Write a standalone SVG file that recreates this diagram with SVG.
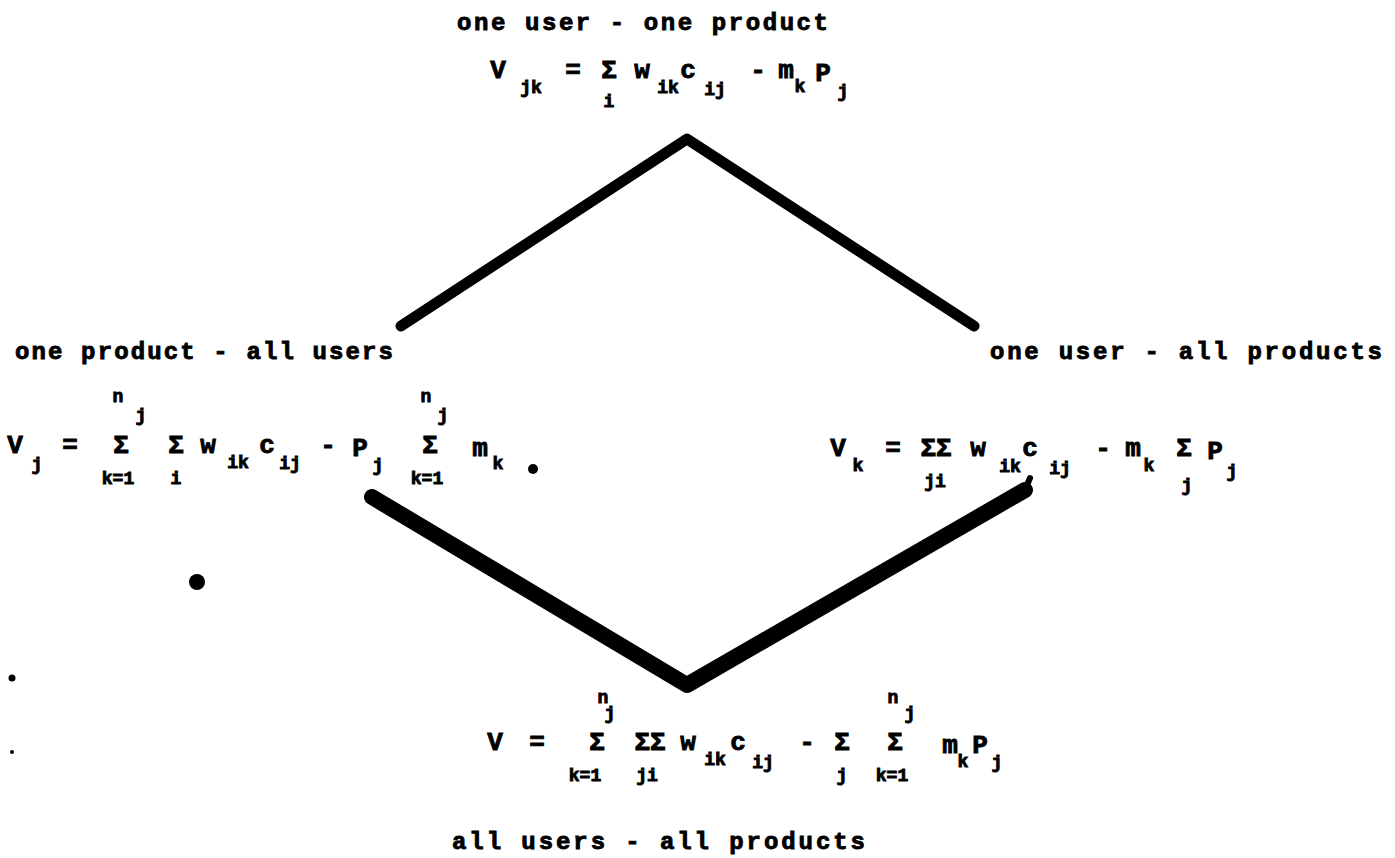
<svg xmlns="http://www.w3.org/2000/svg" width="1395" height="858" viewBox="0 0 1395 858">
<style>
text{font-family:"Liberation Mono","DejaVu Sans Mono",monospace;font-weight:bold;fill:#000;stroke:#000;stroke-width:0.9px}
.lbl{font-size:24px}
.m{font-size:26px;text-anchor:middle}
.s{font-size:18px;text-anchor:middle}
.edge{fill:none;stroke:#000;stroke-linecap:round;stroke-linejoin:round}
</style>
<rect width="1395" height="858" fill="#fff"/>
<g id="connectors">
<path class="edge" stroke-width="11" d="M401 326 L687 139 L974 326"/>
<path class="edge" stroke-width="16" d="M372 497 L687 685 L1025 490"/>
<path class="edge" stroke-width="6" d="M1025 490 L1030 478"/>
</g>
<g id="node-top">
<text class="lbl" x="457" y="30" textLength="371" lengthAdjust="spacing">one user - one product</text>
<text class="m" x="498" y="78">V</text>
<text class="s" x="531" y="93">jk</text>
<text class="m" x="573" y="78">=</text>
<text class="m" x="609" y="78">Σ</text>
<text class="s" x="609" y="107">i</text>
<text class="m" x="642" y="78">w</text>
<text class="s" x="668" y="93">ik</text>
<text class="m" x="688" y="78">c</text>
<text class="s" x="715" y="95">ij</text>
<text class="m" x="758" y="78">-</text>
<text class="m" x="786" y="78">m</text>
<text class="s" x="800" y="92">k</text>
<text class="m" x="823" y="81">P</text>
<text class="s" x="843" y="97">j</text>
</g>
<g id="node-left">
<text class="lbl" x="15" y="359" textLength="378" lengthAdjust="spacing">one product - all users</text>
<text class="m" x="15" y="453">V</text>
<text class="s" x="37" y="470">j</text>
<text class="m" x="70" y="453">=</text>
<text class="s" x="118" y="402">n</text>
<text class="s" x="141" y="421">j</text>
<text class="m" x="121" y="453">Σ</text>
<text class="s" x="118" y="484">k=1</text>
<text class="m" x="176" y="453">Σ</text>
<text class="s" x="176" y="484">i</text>
<text class="m" x="208" y="453">w</text>
<text class="s" x="238" y="468">ik</text>
<text class="m" x="267" y="453">c</text>
<text class="s" x="290" y="469">ij</text>
<text class="m" x="328" y="453">-</text>
<text class="m" x="360" y="456">P</text>
<text class="s" x="378" y="471">j</text>
<text class="s" x="426" y="402">n</text>
<text class="s" x="443" y="421">j</text>
<text class="m" x="430" y="453">Σ</text>
<text class="s" x="427" y="484">k=1</text>
<text class="m" x="480" y="456">m</text>
<text class="s" x="498" y="469">k</text>
<circle cx="533" cy="469" r="5"/>
</g>
<g id="node-right">
<text class="lbl" x="990" y="359" textLength="392" lengthAdjust="spacing">one user - all products</text>
<text class="m" x="838" y="456">V</text>
<text class="s" x="858" y="471">k</text>
<text class="m" x="893" y="456">=</text>
<text class="m" x="936" y="456">ΣΣ</text>
<text class="s" x="935" y="487">ji</text>
<text class="m" x="978" y="456">w</text>
<text class="s" x="1010" y="472">ik</text>
<text class="m" x="1030" y="456">c</text>
<text class="s" x="1060" y="474">ij</text>
<text class="m" x="1103" y="456">-</text>
<text class="m" x="1133" y="456">m</text>
<text class="s" x="1149" y="471">k</text>
<text class="m" x="1184" y="456">Σ</text>
<text class="s" x="1187" y="491">j</text>
<text class="m" x="1215" y="459">P</text>
<text class="s" x="1232" y="477">j</text>
</g>
<g id="node-bottom">
<text class="s" x="603" y="703">n</text>
<text class="s" x="610" y="719">j</text>
<text class="m" x="495" y="750">V</text>
<text class="m" x="537" y="750">=</text>
<text class="m" x="597" y="750">Σ</text>
<text class="s" x="585" y="781">k=1</text>
<text class="m" x="650" y="750">ΣΣ</text>
<text class="s" x="647" y="781">ji</text>
<text class="m" x="688" y="750">w</text>
<text class="s" x="715" y="765">ik</text>
<text class="m" x="738" y="750">c</text>
<text class="s" x="763" y="768">ij</text>
<text class="m" x="807" y="750">-</text>
<text class="m" x="842" y="750">Σ</text>
<text class="s" x="842" y="781">j</text>
<text class="s" x="893" y="703">n</text>
<text class="s" x="910" y="719">j</text>
<text class="m" x="895" y="750">Σ</text>
<text class="s" x="892" y="781">k=1</text>
<text class="m" x="950" y="753">m</text>
<text class="s" x="963" y="767">k</text>
<text class="m" x="980" y="753">P</text>
<text class="s" x="997" y="768">j</text>
<text class="lbl" x="452" y="849" textLength="413" lengthAdjust="spacing">all users - all products</text>
</g>
<g id="marks">
<circle cx="197" cy="582" r="8"/>
<circle cx="12" cy="678" r="3.5"/>
<circle cx="12" cy="752" r="2"/>
</g>
</svg>
